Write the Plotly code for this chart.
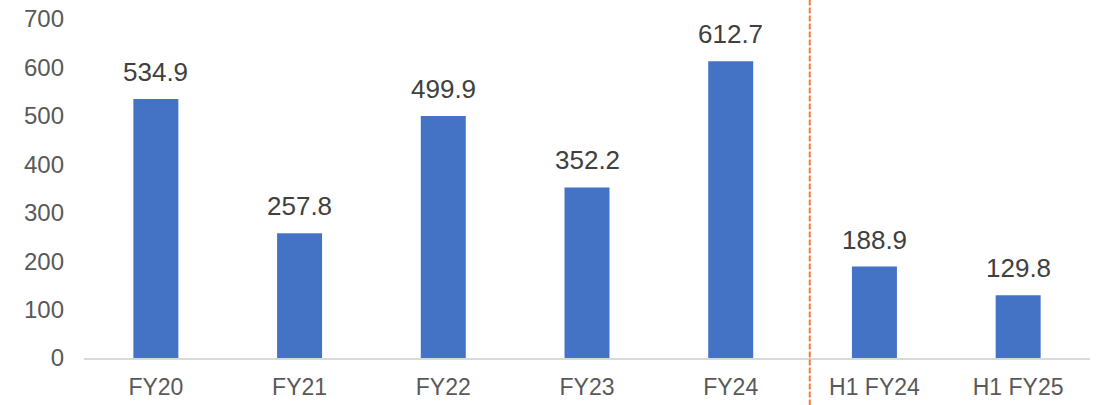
import plotly.graph_objects as go

categories = ["FY20", "FY21", "FY22", "FY23", "FY24", "H1 FY24", "H1 FY25"]
values = [534.9, 257.8, 499.9, 352.2, 612.7, 188.9, 129.8]
labels = ["534.9", "257.8", "499.9", "352.2", "612.7", "188.9", "129.8"]
y_ticks = [0, 100, 200, 300, 400, 500, 600, 700]

FONT = "Liberation Sans Narrow, Arial Narrow, Liberation Sans, Arial"

fig = go.Figure()
fig.add_trace(go.Bar(
    x=categories, y=values,
    marker=dict(color="#4472C4", line=dict(width=0)),
    hoverinfo="x+y",
))

for c, v, t in zip(categories, values, labels):
    fig.add_annotation(x=c, y=v, text=t, showarrow=False, xref="x", yref="y",
                       yanchor="bottom", yshift=10,
                       font=dict(family=FONT, size=26, color="#404040"))

fig.add_shape(type="line", xref="x", yref="paper",
              x0=4.55, x1=4.55, y0=-0.14, y1=1.06,
              line=dict(color="#ED7D31", width=2, dash="6px,2px"))

fig.update_layout(
    width=1099, height=405,
    margin=dict(l=84, r=9, t=19, b=47, autoexpand=False),
    paper_bgcolor="white", plot_bgcolor="white",
    bargap=0.687, showlegend=False,
    font=dict(family=FONT, size=24, color="#595959"),
    xaxis=dict(showgrid=False, showline=True, linecolor="#D9D9D9", linewidth=1.5,
               ticks="", automargin=False, ticklabelstandoff=8,
               ticklabeloverflow="allow",
               tickfont=dict(size=23, color="#595959")),
    yaxis=dict(range=[0, 700], tickvals=y_ticks, showgrid=False, zeroline=False,
               showline=False, ticks="", automargin=False, ticklabelstandoff=19,
               ticklabeloverflow="allow",
               tickfont=dict(size=24, color="#595959")),
)

fig.write_html("out.html", config={"displayModeBar": False},
               post_script="document.body.style.margin='0';document.body.style.overflow='hidden';")
